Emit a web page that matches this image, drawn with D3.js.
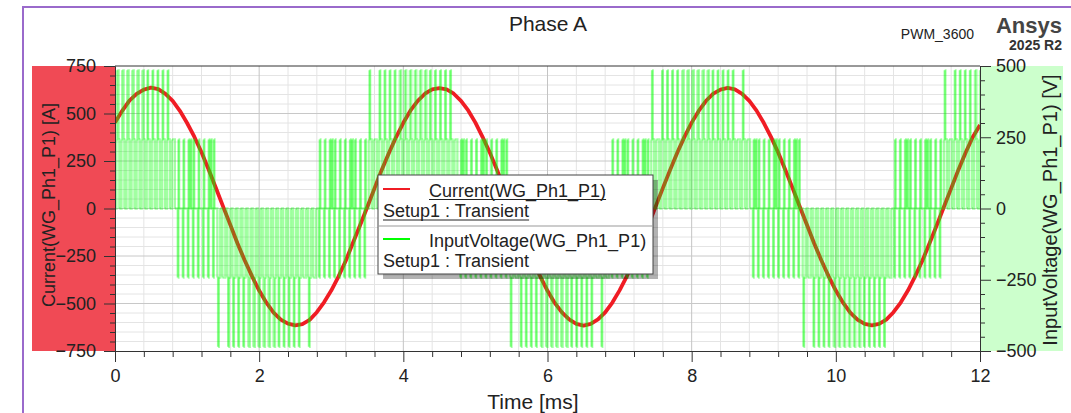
<!DOCTYPE html>
<html><head><meta charset="utf-8">
<script src="https://cdn.jsdelivr.net/npm/d3@7"></script>
<style>
html,body{margin:0;padding:0;background:#fff;overflow:hidden;}
svg{display:block;font-family:"Liberation Sans",Arial,sans-serif;}
</style></head><body>
<svg id="chart" width="1071" height="413"></svg>
<script>
// ---------------- data ----------------
const xTicks = [0, 2, 4, 6, 8, 10, 12];
const yLeftTicks = [-750, -500, -250, 0, 250, 500, 750];
const yRightTicks = [-500, -250, 0, 250, 500];

// Current(WG_Ph1_P1) [A], sampled every 0.1 ms from 0 to 12 ms
const currentStepMs = 0.1;
const currentA = [
 452,514,568,603,626,636,628,603,566,514,450,378,296,204,108,10,-86,-184,-274,-356,
 -432,-496,-548,-585,-606,-615,-608,-586,-546,-494,-432,-358,-276,-182,-88,8,106,203,292,376,
 451,516,566,604,627,634,627,604,567,516,452,376,294,203,106,9,-88,-183,-275,-358,
 -433,-497,-547,-584,-607,-616,-607,-584,-547,-495,-431,-357,-274,-183,-87,10,107,202,293,377,
 452,515,567,605,626,635,627,603,566,515,451,377,295,203,107,9,-87,-184,-274,-357,
 -432,-496,-548,-585,-607,-615,-607,-585,-546,-495,-432,-357,-275,-183,-88,9,106,203,293,376,440
];

// InputVoltage(WG_Ph1_P1) [V]: level codes, one code per 0.01 ms, 14 codes per string
const voltageStepMs = 0.01;
const voltageLevels = [-485, -242.5, 0, 242.5, 485]; // code 0..4
const voltagePeriods = [
 "22344322234432","22344322234432","22344322234432","22343322234332",
 "22343322234332","22343322233332","22213222221322","22213223221322",
 "22213222221322","22213223221322","22101122211112","22101122210112",
 "22101122210112","22100122210012","22100122210012","22100122210012",
 "22101122210112","22101122210112","22101122211112","22101122211112",
 "22213222221322","22213223221322","22213222221322","22213223221322",
 "22213222221322","22343322233332","22343322234332","22343322234332",
 "22344322234432","22344322234432","22344322234432","22343322234332",
 "22343322234332","22343322233332","22213223221322","22213222221322",
 "22213223221322","22213222221322","22213223221322","22101122211112",
 "22101122210112","22101122210112","22100122210012","22100122210012",
 "22100122210012","22101122210112","22101122210112","22101122211112",
 "22101122211112","22213222221322","22213223221322","22213222221322",
 "22213223221322","22343322233332","22343322234332","22343322234332",
 "22344322234432","22344322234432","22344322234432","22343322234332",
 "22343322234332","22343322233332","22343322233332","22213223221322",
 "22213222221322","22213223221322","22213222221322","22213223221322",
 "22101122211112","22101122210112","22101122210112","22100122210012",
 "22100122210012","22100122210012","22101122210112","22101122210112",
 "22101122211112","22213222221322","22213223221322","22213222221322",
 "22213223221322","22213222221322","22343322233332","22343322234332",
 "22343322234332","22344322234432"
];

const legendNames = ["Current(WG_Ph1_P1)", "InputVoltage(WG_Ph1_P1)"];
const legendSetup = "Setup1 : Transient";
const seriesColors = ["#f01c24", "#00ff00"];

// ---------------- layout ----------------
const svg = d3.select('#chart');
const P = {l:115, r:980, t:66, b:351};
const x = d3.scaleLinear().domain([0, 12]).range([P.l, P.r]);
const yL = d3.scaleLinear().domain([-750, 750]).range([P.b, P.t]);
const yR = d3.scaleLinear().domain([-500, 500]).range([P.b, P.t]);

// outer purple frame
svg.append('path').attr('d', 'M23,413 V7 H1071').attr('fill','none')
  .attr('stroke','#9a6acb').attr('stroke-width',2);

// axis side panels
svg.append('rect').attr('x',32).attr('y',yL(750)).attr('width',P.l-32).attr('height',yL(-750)-yL(750)).attr('fill','#f04a55');
svg.append('rect').attr('x',P.r).attr('y',yR(500)).attr('width',1063-P.r).attr('height',yR(-500)-yR(500)).attr('fill','#ccffcc');

// grid
const xMinor = d3.range(0, 12.0001, 0.4).filter(v => Math.abs(v/2 - Math.round(v/2)) > 1e-6);
const yMinor = d3.range(-750, 750.1, 50).filter(v => v % 250 !== 0);
const grid = svg.append('g');
grid.selectAll('.gxm').data(xMinor).join('line')
  .attr('x1', d=>x(d)).attr('x2', d=>x(d)).attr('y1',P.t).attr('y2',P.b)
  .attr('stroke','#e4e4e4').attr('stroke-width',1);
grid.selectAll('.gym').data(yMinor).join('line')
  .attr('x1',P.l).attr('x2',P.r).attr('y1', d=>yL(d)).attr('y2', d=>yL(d))
  .attr('stroke','#e4e4e4').attr('stroke-width',1);
grid.selectAll('.gxM').data(xTicks.slice(1,-1)).join('line')
  .attr('x1', d=>x(d)).attr('x2', d=>x(d)).attr('y1',P.t).attr('y2',P.b)
  .attr('stroke','#c4c4c4').attr('stroke-width',1);
grid.selectAll('.gyM').data(yLeftTicks.slice(1,-1)).join('line')
  .attr('x1',P.l).attr('x2',P.r).attr('y1', d=>yL(d)).attr('y2', d=>yL(d))
  .attr('stroke','#c8c8c8').attr('stroke-width',1);

// clip
svg.append('clipPath').attr('id','plotclip').append('rect')
  .attr('x',P.l).attr('y',P.t).attr('width',P.r-P.l).attr('height',P.b-P.t);

// current line
const curPts = currentA.map((v,i)=>[i*currentStepMs, v]);
svg.append('path').datum(curPts)
  .attr('clip-path','url(#plotclip)')
  .attr('d', d3.line().x(d=>x(d[0])).y(d=>yL(d[1])))
  .attr('fill','none').attr('stroke',seriesColors[0]).attr('stroke-width',3.8)
  .attr('stroke-linejoin','round');

// voltage line (step), drawn as separate runs so overlapping edges add up
const codes = voltagePeriods.join('');
const runs = [];
let s = 0;
for (let i = 1; i <= codes.length; i++) {
  if (i === codes.length || codes[i] !== codes[s]) {
    runs.push({t0: s*voltageStepMs, t1: i*voltageStepMs,
      v: voltageLevels[+codes[s]],
      vn: i < codes.length ? voltageLevels[+codes[i]] : voltageLevels[+codes[s]]});
    s = i;
  }
}
svg.append('g').attr('clip-path','url(#plotclip)')
  .selectAll('path').data(runs).join('path')
  .attr('d', d => `M${x(d.t0)},${yR(d.v)}H${x(d.t1)}V${yR(d.vn)}`)
  .attr('fill','none').attr('stroke',seriesColors[1]).attr('stroke-opacity',0.36)
  .attr('stroke-width',2.3);

// axes
function styleAxis(g){
  g.selectAll('.domain').attr('stroke','#333');
  g.selectAll('.tick line').attr('stroke','#333');
  g.selectAll('.tick text').attr('fill','#222').attr('font-size',18)
    .attr('font-family','"Liberation Sans",Arial,sans-serif');
}
const leftMinor = d3.range(-750, 750.1, 50).filter(v => v % 250 !== 0);
const rightMinor = d3.range(-500, 500.1, 50).filter(v => v % 250 !== 0);
svg.append('g').attr('transform',`translate(${P.l},0)`)
  .call(d3.axisLeft(yL).tickValues(leftMinor).tickSize(5).tickSizeOuter(0).tickFormat(''))
  .call(styleAxis);
svg.append('g').attr('transform',`translate(${P.l},0)`)
  .call(d3.axisLeft(yL).tickValues(yLeftTicks).tickSize(11).tickSizeOuter(0).tickPadding(8))
  .call(styleAxis);
svg.append('g').attr('transform',`translate(${P.r},0)`)
  .call(d3.axisRight(yR).tickValues(rightMinor).tickSize(5).tickSizeOuter(0).tickFormat(''))
  .call(styleAxis);
svg.append('g').attr('transform',`translate(${P.r},0)`)
  .call(d3.axisRight(yR).tickValues(yRightTicks).tickSize(11).tickSizeOuter(0).tickPadding(5))
  .call(styleAxis);
svg.append('g').attr('transform',`translate(0,${P.b})`)
  .call(d3.axisBottom(x).tickValues(xMinor).tickSize(6).tickSizeOuter(0).tickFormat(''))
  .call(styleAxis);
svg.append('g').attr('transform',`translate(0,${P.b})`)
  .call(d3.axisBottom(x).tickValues(xTicks).tickSize(11).tickSizeOuter(0).tickPadding(7))
  .call(styleAxis);
// top frame
svg.append('line').attr('x1',P.l).attr('x2',P.r).attr('y1',P.t).attr('y2',P.t).attr('stroke','#333');

// titles
svg.append('text').attr('x',548).attr('y',31).attr('text-anchor','middle')
  .attr('font-size',21).attr('fill','#222').text('Phase A');
svg.append('text').attr('x',974).attr('y',39).attr('text-anchor','end')
  .attr('font-size',14).attr('fill','#222').text('PWM_3600');
svg.append('text').attr('x',1062).attr('y',33).attr('text-anchor','end')
  .attr('font-size',22).attr('font-weight','bold').attr('fill','#444').text('Ansys');
svg.append('text').attr('x',1062).attr('y',50).attr('text-anchor','end')
  .attr('font-size',14).attr('font-weight','bold').attr('fill','#333').text('2025 R2');

svg.append('text').attr('x',533).attr('y',409).attr('text-anchor','middle')
  .attr('font-size',21).attr('fill','#222').text('Time [ms]');
svg.append('text').attr('transform','translate(55,205) rotate(-90)').attr('text-anchor','middle')
  .attr('font-size',18).attr('fill','#222').text('Current(WG_Ph1_P1) [A]');
svg.append('text').attr('transform','translate(1057,210) rotate(-90)').attr('text-anchor','middle')
  .attr('font-size',20).attr('fill','#222').text('InputVoltage(WG_Ph1_P1) [V]');

// legend
const L = {x:378, y:175, w:275, h:99};
const lg = svg.append('g');
lg.append('rect').attr('x',L.x+5).attr('y',L.y+5).attr('width',L.w).attr('height',L.h)
  .attr('fill','#000').attr('opacity',0.3);
lg.append('rect').attr('x',L.x).attr('y',L.y).attr('width',L.w).attr('height',L.h)
  .attr('fill','#fff').attr('stroke','#444');
lg.append('line').attr('x1',L.x).attr('x2',L.x+L.w).attr('y1',L.y+51).attr('y2',L.y+51)
  .attr('stroke','#999');
legendNames.forEach((name, i) => {
  const oy = L.y + i*50;
  lg.append('line').attr('x1',L.x+5).attr('x2',L.x+32).attr('y1',oy+14).attr('y2',oy+14)
    .attr('stroke',seriesColors[i]).attr('stroke-width',2);
  const t1 = lg.append('text').attr('x',L.x+51).attr('y',oy+22).attr('font-size',18)
    .attr('fill','#222').text(name);
  const t2 = lg.append('text').attr('x',L.x+5).attr('y',oy+42).attr('font-size',18)
    .attr('fill','#222').text(legendSetup);
  if (i === 0) {
    const w1 = t1.node().getComputedTextLength();
    const w2 = t2.node().getComputedTextLength();
    lg.append('line').attr('x1',L.x+51).attr('x2',L.x+51+w1).attr('y1',oy+24.5).attr('y2',oy+24.5).attr('stroke','#222');
    lg.append('line').attr('x1',L.x+5).attr('x2',L.x+5+w2).attr('y1',oy+45).attr('y2',oy+45).attr('stroke','#222');
  }
});
</script>
</body></html>
